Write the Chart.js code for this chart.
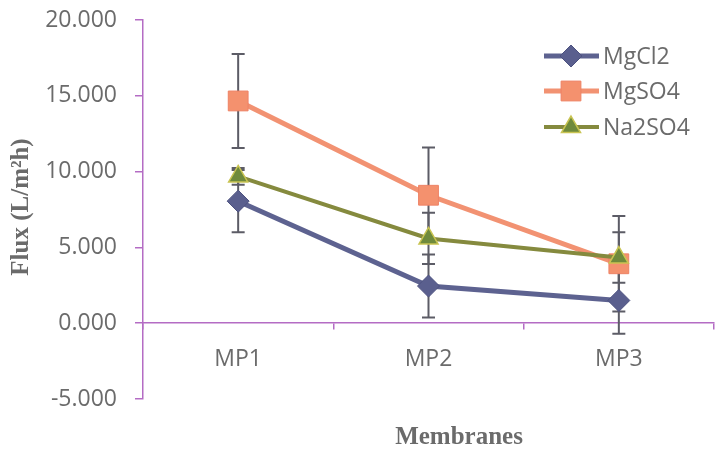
<!DOCTYPE html>
<html>
<head>
<meta charset="utf-8">
<script src="https://cdn.jsdelivr.net/npm/chart.js@4.4.1/dist/chart.umd.min.js"></script>
<style>
  html, body { margin: 0; padding: 0; background: #fff; overflow: hidden; }
  #wrap { width: 729px; height: 454px; }
</style>
</head>
<body>
<div id="wrap"><canvas id="c" width="729" height="454"></canvas></div>
<script>
// Membrane flux per salt solution, with standard deviations
const categories = ['MP1', 'MP2', 'MP3'];
const mgcl2 = [8.05, 2.45, 1.5];
const mgcl2Err = [2.05, 2.08, 2.2];
const mgso4 = [14.66, 8.44, 3.92];
const mgso4Err = [3.1, 3.15, 3.15];
const na2so4 = [9.68, 5.59, 4.33];
const na2so4Err = [0.55, 1.69, 1.67];
const yTicks = [-5, 0, 5, 10, 15, 20];

const TEXT = '#6b6b6b';
const AXIS = '#b46cc4';
const FONT = '"Open Sans", sans-serif';

// Vertical error bars with caps, drawn behind the series
const errorBars = {
  id: 'errorBars',
  beforeDatasetsDraw(chart) {
    const ctx = chart.ctx;
    const y = chart.scales.y;
    ctx.save();
    ctx.strokeStyle = '#5c5c66';
    ctx.lineWidth = 2;
    chart.data.datasets.forEach((ds, di) => {
      const meta = chart.getDatasetMeta(di);
      meta.data.forEach((pt, i) => {
        const v = ds.data[i], e = ds.errors[i];
        const top = y.getPixelForValue(v + e);
        const bot = y.getPixelForValue(v - e);
        const x = pt.x;
        ctx.beginPath();
        ctx.moveTo(x, top); ctx.lineTo(x, bot);
        ctx.moveTo(x - 6.5, top); ctx.lineTo(x + 6.5, top);
        ctx.moveTo(x - 6.5, bot); ctx.lineTo(x + 6.5, bot);
        ctx.stroke();
      });
    });
    ctx.restore();
  }
};

// Legend entries (line + marker) and the two axis titles
const decorations = {
  id: 'decorations',
  afterDraw(chart) {
    const ctx = chart.ctx;
    ctx.save();
    const rows = [56, 91, 127];
    chart.data.datasets.forEach((ds, i) => {
      const yy = rows[i];
      ctx.strokeStyle = ds.borderColor;
      ctx.lineWidth = ds.borderWidth;
      ctx.beginPath();
      ctx.moveTo(544, yy); ctx.lineTo(599, yy);
      ctx.stroke();
      ctx.fillStyle = ds.pointBackgroundColor;
      ctx.strokeStyle = ds.pointBorderColor;
      ctx.lineWidth = ds.pointBorderWidth;
      Chart.helpers.drawPoint(ctx, {
        pointStyle: ds.pointStyle,
        radius: ds.pointRadius,
        borderWidth: ds.pointBorderWidth
      }, 571, yy);
      ctx.fillStyle = TEXT;
      ctx.font = '23px ' + FONT;
      ctx.textAlign = 'left';
      ctx.textBaseline = 'middle';
      ctx.fillText(ds.label, 603, yy + 1);
    });

    ctx.fillStyle = TEXT;
    ctx.font = 'bold 25px "Liberation Serif", "Times New Roman", serif';
    ctx.textAlign = 'center';
    ctx.textBaseline = 'middle';
    ctx.fillText('Membranes', 459, 438);

    ctx.translate(22, 207);
    ctx.rotate(-Math.PI / 2);
    ctx.fillText('Flux (L/m\u00B2h)', 0, 0);
    ctx.restore();
  }
};

new Chart(document.getElementById('c'), {
  type: 'line',
  data: {
    labels: categories,
    datasets: [
      {
        label: 'MgCl2', data: mgcl2, errors: mgcl2Err, order: 2,
        borderColor: '#5d6290', borderWidth: 5,
        pointStyle: 'rectRot', pointRadius: 11, pointBorderWidth: 1,
        pointBackgroundColor: '#5a5f8e', pointBorderColor: '#4d5280'
      },
      {
        label: 'MgSO4', data: mgso4, errors: mgso4Err, order: 1,
        borderColor: '#f29272', borderWidth: 5,
        pointStyle: 'rect', pointRadius: 14, pointBorderWidth: 1,
        pointBackgroundColor: '#f4916e', pointBorderColor: '#ee8265'
      },
      {
        label: 'Na2SO4', data: na2so4, errors: na2so4Err, order: 0,
        borderColor: '#858a3e', borderWidth: 4,
        pointStyle: 'triangle', pointRadius: 11, pointBorderWidth: 1.5,
        pointBackgroundColor: '#6f8a3c', pointBorderColor: '#c9c452'
      }
    ]
  },
  options: {
    responsive: false,
    devicePixelRatio: 1,
    animation: false,
    layout: { padding: { left: 0, top: 20, right: 0, bottom: 55 } },
    plugins: { legend: { display: false }, tooltip: { enabled: false } },
    elements: { line: { tension: 0 } },
    scales: {
      x: {
        position: { y: 0 },
        offset: true,
        grid: {
          offset: true, drawOnChartArea: false, drawTicks: true,
          tickLength: 6, tickColor: AXIS, lineWidth: 1.5
        },
        border: { color: AXIS, width: 1.5 },
        ticks: { color: TEXT, font: { family: FONT, size: 23 }, padding: 16 },
        afterFit(scale) { scale.height = 0; }
      },
      y: {
        min: -5, max: 20,
        afterBuildTicks(scale) { scale.ticks = yTicks.map(v => ({ value: v })); },
        grid: {
          drawOnChartArea: false, drawTicks: true,
          tickLength: 8, tickColor: AXIS, lineWidth: 1.5
        },
        border: { color: AXIS, width: 1.5 },
        ticks: {
          color: TEXT, font: { family: FONT, size: 23, lineHeight: 0.1 }, padding: 18,
          callback: v => v.toFixed(3)
        },
        afterFit(scale) { scale.width = 143; }
      }
    }
  },
  plugins: [errorBars, decorations]
});
</script>
</body>
</html>
